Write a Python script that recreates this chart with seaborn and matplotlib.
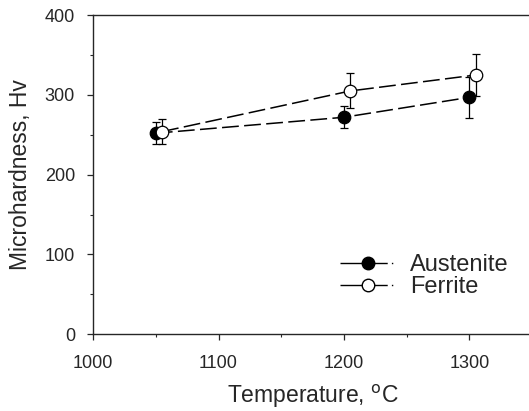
import numpy as np
import pandas as pd
import matplotlib
matplotlib.use('Agg')
import matplotlib.pyplot as plt
from matplotlib.ticker import MultipleLocator
from matplotlib.lines import Line2D
import seaborn as sns

aus_temp = [1050, 1200, 1300]
aus_hv = [252, 272, 297]
aus_err = [14, 14, 26]

fer_temp = [1055, 1205, 1305]
fer_hv = [254, 305, 325]
fer_err = [16, 22, 26]

sns.set_style('ticks')
plt.rcParams['font.family'] = ['Liberation Sans', 'DejaVu Sans']

df = pd.DataFrame({
    'Temperature': aus_temp + fer_temp,
    'Hv': aus_hv + fer_hv,
    'Phase': ['Austenite'] * 3 + ['Ferrite'] * 3,
})

fig = plt.figure(figsize=(5.29, 4.11), dpi=100)
ax = fig.add_axes([0.176, 0.187, 0.83, 0.776])

# error bars first so markers sit on top
ax.errorbar(aus_temp, aus_hv, yerr=aus_err, fmt='none', ecolor='black',
            elinewidth=0.9, capsize=3, capthick=0.9, zorder=2)
ax.errorbar(fer_temp, fer_hv, yerr=fer_err, fmt='none', ecolor='black',
            elinewidth=0.9, capsize=3, capthick=0.9, zorder=2)

sns.lineplot(data=df, x='Temperature', y='Hv', hue='Phase', style='Phase',
             palette=['black', 'black'], markers={'Austenite': 'o', 'Ferrite': 'o'},
             dashes={'Austenite': (11, 3.5), 'Ferrite': (11, 3.5)}, linewidth=1.1,
             markersize=9, markeredgecolor='black', markeredgewidth=0.9,
             legend=False, ax=ax, zorder=3)
# ferrite markers are hollow
ax.lines[-1].set_markerfacecolor('white')
ax.lines[-2].set_markerfacecolor('black')

ax.set_xlim(1000, 1350)
ax.set_ylim(0, 400)
ax.xaxis.set_major_locator(MultipleLocator(100))
ax.xaxis.set_minor_locator(MultipleLocator(50))
ax.yaxis.set_major_locator(MultipleLocator(100))
ax.yaxis.set_minor_locator(MultipleLocator(50))
ax.tick_params(which='major', length=4, width=0.9, labelsize=13, direction='out')
ax.tick_params(axis='x', which='major', pad=11)
ax.tick_params(axis='y', which='major', pad=9)
ax.tick_params(which='minor', length=2.5, width=0.8, direction='out')

ax.spines['right'].set_visible(False)
for s in ['left', 'bottom', 'top']:
    ax.spines[s].set_linewidth(1.0)

ax.set_xlabel('Temperature, $^{\\mathrm{o}}$C', fontsize=16.5, labelpad=8)
ax.set_ylabel('Microhardness, Hv', fontsize=16.5, labelpad=9)

ls_leg = (0, (34, 3, 1, 2))
handles = [
    Line2D([], [], color='black', lw=1.0, ls=ls_leg, marker='o', markersize=9,
           markerfacecolor='black', markeredgecolor='black'),
    Line2D([], [], color='black', lw=1.0, ls=ls_leg, marker='o', markersize=9,
           markerfacecolor='white', markeredgecolor='black'),
]
fig.legend(handles, ['Austenite', 'Ferrite'], loc='upper left', frameon=False,
           fontsize=17, handlelength=2.33, handletextpad=0.63, labelspacing=0.0,
           borderpad=0, borderaxespad=0, bbox_to_anchor=(0.643, 0.382))

fig.savefig('out.png', dpi=100)
